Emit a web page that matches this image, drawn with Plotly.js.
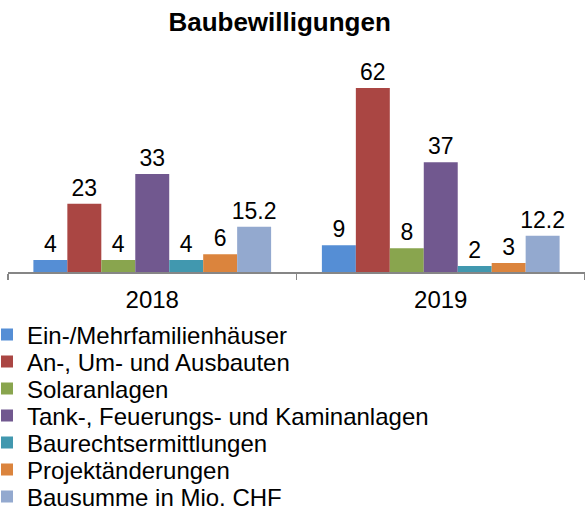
<!DOCTYPE html>
<html>
<head>
<meta charset="utf-8">
<script src="https://cdn.plot.ly/plotly-3.0.1.min.js"></script>
<style>html,body{margin:0;padding:0;background:#fff;}#chart{width:585px;height:512px;}</style>
</head>
<body>
<div id="chart"></div>
<script>
var categories = ["2018", "2019"];
var seriesNames = [
  "Ein-/Mehrfamilienhäuser",
  "An-, Um- und Ausbauten",
  "Solaranlagen",
  "Tank-, Feuerungs- und Kaminanlagen",
  "Baurechtsermittlungen",
  "Projektänderungen",
  "Bausumme in Mio. CHF"
];
var einMehrfamilien = [4, 9];
var anUmAusbauten = [23, 62];
var solaranlagen = [4, 8];
var tankFeuerungKamin = [33, 37];
var baurechtsermittlungen = [4, 2];
var projektaenderungen = [6, 3];
var bausumme = [15.2, 12.2];
var seriesValues = [einMehrfamilien, anUmAusbauten, solaranlagen, tankFeuerungKamin, baurechtsermittlungen, projektaenderungen, bausumme];
var colors = ["#558ED5", "#AA4643", "#89A54E", "#71588F", "#4198AF", "#DB843D", "#93A9CF"];

var FONT = "Liberation Sans, Arial, sans-serif";
var W = 585, H = 512;

var traces = seriesNames.map(function (name, i) {
  return {
    type: "bar",
    name: name,
    x: categories,
    y: seriesValues[i],
    marker: {color: colors[i], line: {width: 0}},
    text: seriesValues[i].map(function (v) { return String(v); }),
    textposition: "outside",
    constraintext: "none",
    cliponaxis: false,
    textfont: {family: FONT, size: 23, color: "#000"},
    hoverinfo: "skip",
    legend: i === 0 ? "legend" : "legend" + (i + 1)
  };
});

var layout = {
  width: W,
  height: H,
  margin: {l: 8, r: 0, t: 60, b: 240, autoexpand: false},
  paper_bgcolor: "#fff",
  plot_bgcolor: "#fff",
  font: {family: FONT, color: "#000"},
  title: {text: "<b>Baubewilligungen</b>", font: {family: FONT, size: 26, color: "#000"}, x: 0.478, xanchor: "center", y: 0.958, yanchor: "middle"},
  barmode: "group",
  bargap: 0.176,
  bargroupgap: 0,
  showlegend: true,
  xaxis: {
    type: "category",
    showline: true,
    linecolor: "#868686",
    linewidth: 1.5,
    ticks: "outside",
    tickson: "boundaries",
    ticklen: 6,
    tickcolor: "#868686",
    tickwidth: 1.5,
    ticklabelstandoff: 6,
    tickfont: {family: FONT, size: 24, color: "#000"},
    showgrid: false,
    zeroline: false,
    automargin: false
  },
  yaxis: {
    range: [0, 71.4],
    showgrid: false,
    zeroline: false,
    showline: false,
    showticklabels: false,
    ticks: "",
    automargin: false
  }
};

var firstY = 335, stepY = 27;
seriesNames.forEach(function (name, i) {
  var key = i === 0 ? "legend" : "legend" + (i + 1);
  layout[key] = {
    xref: "container", yref: "container",
    x: 0, xanchor: "left",
    y: 1 - (firstY + i * stepY) / H, yanchor: "middle",
    indentation: -13,
    font: {family: FONT, size: 24, color: "#000"},
    borderwidth: 0,
    bgcolor: "rgba(0,0,0,0)",
    itemclick: false
  };
});

Plotly.newPlot("chart", traces, layout, {displayModeBar: false, staticPlot: true});
</script>
</body>
</html>
